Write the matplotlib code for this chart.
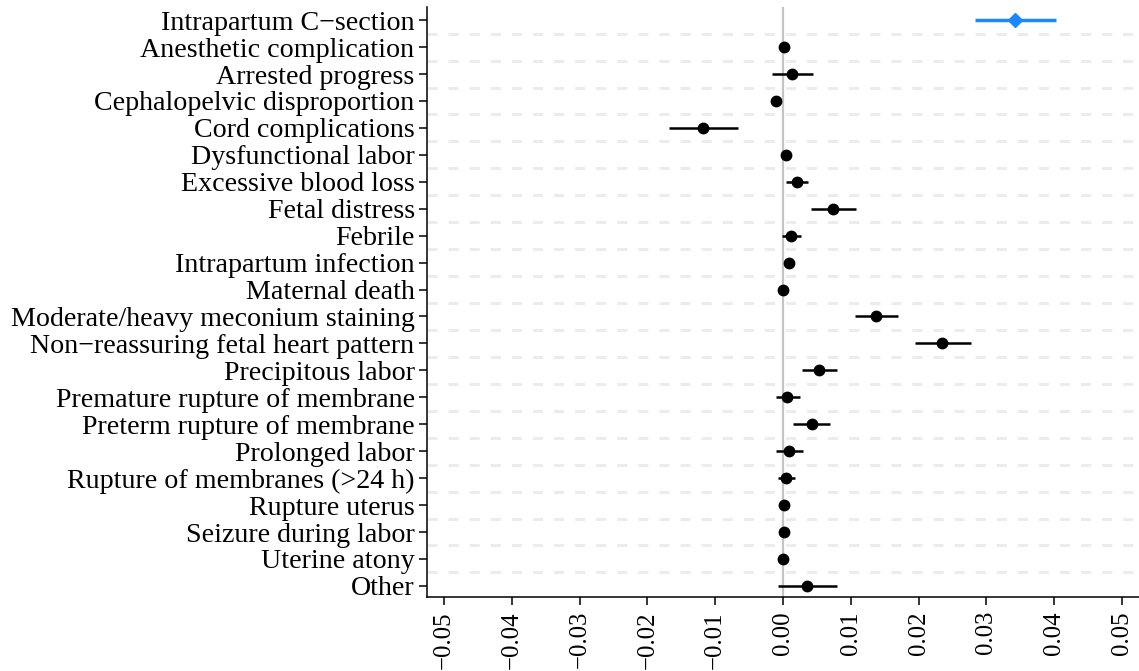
import matplotlib
matplotlib.use("Agg")
import matplotlib.pyplot as plt
import numpy as np

categories = [
    "Intrapartum C\u2212section", "Anesthetic complication", "Arrested progress",
    "Cephalopelvic disproportion", "Cord complications", "Dysfunctional labor",
    "Excessive blood loss", "Fetal distress", "Febrile", "Intrapartum infection",
    "Maternal death", "Moderate/heavy meconium staining",
    "Non\u2212reassuring fetal heart pattern", "Precipitous labor",
    "Premature rupture of membrane", "Preterm rupture of membrane",
    "Prolonged labor", "Rupture of membranes (>24 h)", "Rupture uterus",
    "Seizure during labor", "Uterine atony", "Other",
]
estimates = [0.0342, 0.0002, 0.00125, -0.0011, -0.0118, 0.0004, 0.0020, 0.0073,
             0.0012, 0.0009, 0.0000, 0.0137, 0.0235, 0.0053, 0.0006, 0.0042,
             0.0009, 0.0004, 0.0002, 0.0002, 0.0000, 0.0036]
ci_low = [0.0283, 0.0000, -0.0017, -0.0013, -0.0168, 0.0001, 0.0004, 0.0041,
          -0.0002, 0.0007, -0.0001, 0.0106, 0.0195, 0.0028, -0.0011, 0.0015,
          -0.0010, -0.0007, 0.0001, 0.0001, -0.0001, -0.0007]
ci_high = [0.0402, 0.0004, 0.0044, -0.0009, -0.0066, 0.0007, 0.0037, 0.0107,
           0.0027, 0.0011, 0.0001, 0.0170, 0.0277, 0.0079, 0.0025, 0.0069,
           0.0030, 0.0017, 0.0003, 0.0003, 0.0001, 0.0080]
xticks = [-0.05, -0.04, -0.03, -0.02, -0.01, 0.00, 0.01, 0.02, 0.03, 0.04, 0.05]

plt.rcParams['font.family'] = ['Liberation Serif', 'DejaVu Serif']

fig = plt.figure(figsize=(11.39, 6.71), dpi=100)
ax = fig.add_axes([0.375, 0.110, 0.625, 0.880])

n = len(categories)
ypos = np.arange(n)

# dashed gridlines between rows
for yy in np.arange(0.5, n - 1, 1.0):
    ax.axhline(yy, color='#ececec', lw=2.2, ls=(0, (3.3, 3.6)), zorder=0)
ax.axvline(0, color='#c4c4c4', lw=1.6, zorder=1)

for i in range(n):
    color = '#1a88ff' if i == 0 else 'black'
    marker = 'D' if i == 0 else 'o'
    ms = 7.5 if i == 0 else 7.5
    lw = 2.5 if i == 0 else 1.8
    ax.plot([ci_low[i], ci_high[i]], [ypos[i], ypos[i]], color=color, lw=lw,
            solid_capstyle='butt', zorder=2)
    ax.plot(estimates[i], ypos[i], marker=marker, color=color, ms=ms,
            mec=color, zorder=3, ls='none')

ax.set_ylim(n - 1 + 0.42, -0.5)
ax.set_xlim(-0.0525, 0.0525)
ax.set_yticks(ypos)
ax.set_yticklabels(categories, fontsize=20.2)
ax.set_xticks(xticks)
ax.set_xticklabels([f"{t:.2f}".replace('-', '\u2212') for t in xticks],
                   rotation=90, fontsize=17.8)
ax.tick_params(axis='both', direction='out', length=6, width=1.1, color='black')
ax.tick_params(axis='y', pad=3)
ax.tick_params(axis='x', pad=4)

for s in ['top', 'right']:
    ax.spines[s].set_visible(False)
for s in ['left', 'bottom']:
    ax.spines[s].set_linewidth(1.1)

fig.savefig("out.png", dpi=100)
